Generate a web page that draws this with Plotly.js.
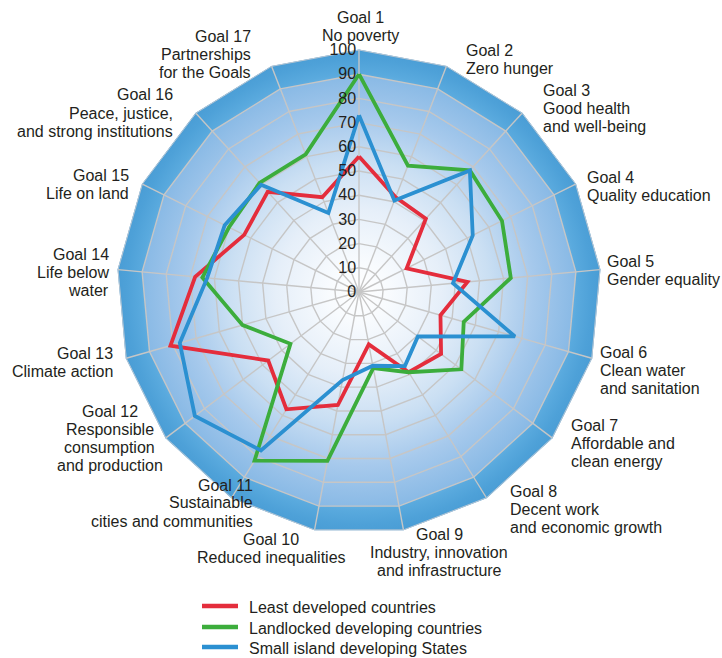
<!DOCTYPE html>
<html>
<head>
<meta charset="utf-8">
<script src="https://cdn.plot.ly/plotly-3.0.1.min.js"></script>
<style>
  html, body { margin: 0; padding: 0; background: #ffffff; }
  #wrap { position: relative; width: 722px; height: 658px; overflow: hidden; }
  #bgOuter, #bgInner { position: absolute; left: 0; top: 0; width: 722px; height: 658px; }
  #chart { position: absolute; left: 0; top: 0; width: 722px; height: 658px; }
</style>
</head>
<body>
<div id="wrap">
  <div id="bgOuter"></div>
  <div id="bgInner"></div>
  <div id="chart"></div>
</div>
<script>
// ---- Data ----
const goals = ['Goal 1','Goal 2','Goal 3','Goal 4','Goal 5','Goal 6','Goal 7','Goal 8','Goal 9',
               'Goal 10','Goal 11','Goal 12','Goal 13','Goal 14','Goal 15','Goal 16','Goal 17'];
const goalLabels = [
  'Goal 1<br>No poverty',
  'Goal 2<br>Zero hunger',
  'Goal 3<br>Good health<br>and well-being',
  'Goal 4<br>Quality education',
  'Goal 5<br>Gender equality',
  'Goal 6<br>Clean water<br>and sanitation',
  'Goal 7<br>Affordable and<br>clean energy',
  'Goal 8<br>Decent work<br>and economic growth',
  'Goal 9<br>Industry, innovation<br>and infrastructure',
  'Goal 10<br>Reduced inequalities',
  'Goal 11<br>Sustainable<br>cities and communities',
  'Goal 12<br>Responsible<br>consumption<br>and production',
  'Goal 13<br>Climate action',
  'Goal 14<br>Life below<br>water',
  'Goal 15<br>Life on land',
  'Goal 16<br>Peace, justice,<br>and strong institutions',
  'Goal 17<br>Partnerships<br>for the Goals'
];
const seriesNames = ['Least developed countries', 'Landlocked developing countries', 'Small island developing States'];
const leastDeveloped = [56, 42, 41, 22, 45, 35, 42.5, 39, 22, 47.5, 57, 47, 81, 68, 53, 56, 42];
const landlocked     = [90, 56, 68, 66, 63, 45, 53, 39, 32, 71, 82, 35.5, 50, 65, 60, 61, 61];
const smallIsland    = [73, 40.5, 68, 52.5, 39, 67, 30.5, 36, 31, 37, 77, 85, 77, 63, 62, 60, 35];
const radialTicks = [0, 10, 20, 30, 40, 50, 60, 70, 80, 90, 100];

// ---- Layout geometry / styles ----
const W = 722, H = 658;
const CX = 359, CY = 292, R = 242;
const FONT = '"Liberation Sans", Arial, Helvetica, sans-serif';
const TXT = '#231f20';
const colors = ['#e42d3c', '#3cad3c', '#2b90d1'];
// label anchor positions (px, centre of first line) and alignment
const labelPos = [
  [360, 17, 'center'], [465, 50.5, 'left'], [542, 91.5, 'left'], [586, 177, 'left'],
  [606, 261, 'left'], [599, 353.5, 'left'], [570, 426.7, 'left'], [508.7, 492.5, 'left'],
  [439, 535, 'center'], [271, 539, 'center'], [254, 486, 'right'], [110, 414, 'center'],
  [114, 353, 'right'], [110, 255.5, 'right'], [130, 175, 'right'], [174, 96, 'right'],
  [252, 38, 'right']
];
const REF_STEP = 15.5, LINE_STEP = 18;
// legend placement (px)
const LEG_X0 = 202, LEG_X1 = 238, LEG_TX = 248, LEG_Y = [606, 627, 647];

// ---- Background (decorative gradient polygon) ----
function polyClip(rpx) {
  const pts = [];
  for (let k = 0; k < goals.length; k++) {
    const a = (90 - k * 360 / goals.length) * Math.PI / 180;
    pts.push((CX + rpx * Math.cos(a)).toFixed(2) + 'px ' + (CY - rpx * Math.sin(a)).toFixed(2) + 'px');
  }
  return 'polygon(' + pts.join(',') + ')';
}
const outer = document.getElementById('bgOuter');
outer.style.clipPath = polyClip(R + 0.5);
outer.style.background = 'radial-gradient(circle ' + R + 'px at ' + CX + 'px ' + CY + 'px, #6fb4e3 0%, #6fb4e3 86%, #5aaade 90%, #4ea1d8 96%, #4a9dd5 100%)';
const inner = document.getElementById('bgInner');
inner.style.clipPath = polyClip(R * 0.9);
inner.style.background = 'radial-gradient(circle ' + (R * 0.9) + 'px at ' + CX + 'px ' + CY + 'px, #ffffff 0%, #f8fbfe 14%, #e6eff9 38%, #cadff3 60%, #a6c9ec 80%, #88b9e5 100%)';

// ---- Traces ----
const seriesVals = [leastDeveloped, landlocked, smallIsland];
const traces = seriesVals.map((vals, i) => ({
  type: 'scatterpolar',
  mode: 'lines',
  name: seriesNames[i],
  r: vals.concat([vals[0]]),
  theta: goals.concat([goals[0]]),
  line: { color: colors[i], width: 3.8 },
  showlegend: false
}));

// ---- Category labels as annotations ----
const annotations = [];
const shapes = [];
goalLabels.forEach((lab, i) => {
  const p = labelPos[i];
  const lines = lab.split('<br>');
  const first = p[1] - (lines.length - 1) * (LINE_STEP - REF_STEP) / 2;
  lines.forEach((line, j) => {
    annotations.push({
      xref: 'paper', yref: 'paper',
      x: p[0] / W, y: 1 - (first + 1.5 + j * LINE_STEP) / H,
      xanchor: p[2], yanchor: 'middle', align: p[2], borderpad: 0,
      text: line, showarrow: false,
      font: { family: FONT, size: 16, color: TXT }
    });
  });
});

// ---- Legend (keys + names) ----
seriesNames.forEach((nm, i) => {
  shapes.push({
    type: 'line', xref: 'paper', yref: 'paper',
    x0: LEG_X0 / W, x1: LEG_X1 / W, y0: 1 - LEG_Y[i] / H, y1: 1 - LEG_Y[i] / H,
    line: { color: colors[i], width: 4.5 }
  });
  annotations.push({
    xref: 'paper', yref: 'paper', x: LEG_TX / W, y: 1 - (LEG_Y[i] + 1) / H,
    xanchor: 'left', yanchor: 'middle', borderpad: 0, showarrow: false,
    text: nm, font: { family: FONT, size: 16, color: TXT }
  });
});

const layout = {
  width: W, height: H,
  margin: { l: 0, r: 0, t: 0, b: 0, autoexpand: false },
  paper_bgcolor: 'rgba(0,0,0,0)',
  plot_bgcolor: 'rgba(0,0,0,0)',
  font: { family: FONT, size: 16, color: TXT },
  showlegend: false,
  polar: {
    domain: { x: [(CX - R) / W, (CX + R) / W], y: [1 - (CY + R) / H, 1 - (CY - R) / H] },
    bgcolor: 'rgba(0,0,0,0)',
    gridshape: 'linear',
    angularaxis: {
      type: 'category', categoryarray: goals, categoryorder: 'array',
      direction: 'clockwise', rotation: 90,
      showticklabels: false, ticks: '',
      showline: true, linecolor: '#b9c7d4', linewidth: 1,
      gridcolor: '#c6c6c6', gridwidth: 1.4
    },
    radialaxis: {
      range: [0, 100], tickvals: radialTicks, ticktext: radialTicks.map(String),
      angle: 90, side: 'counterclockwise', tickangle: 90,
      showline: false, ticks: '',
      gridcolor: '#c6c6c6', gridwidth: 1.4,
      tickfont: { family: FONT, size: 16, color: TXT }
    }
  },
  shapes: shapes,
  annotations: annotations
};

Plotly.newPlot('chart', traces, layout, { displayModeBar: false, staticPlot: true });
</script>
</body>
</html>
